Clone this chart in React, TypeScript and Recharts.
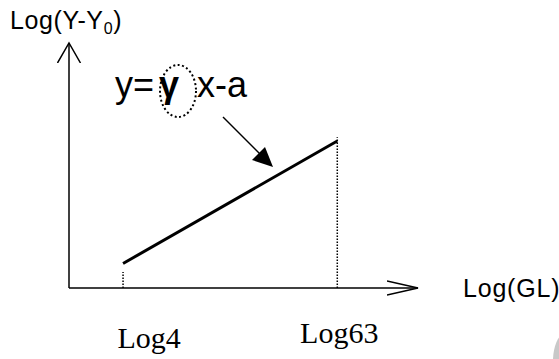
import React from 'react'
import { ComposedChart, Line, XAxis, YAxis, ReferenceLine, Customized } from 'recharts'

// log10 of the grey levels on the x axis
const GL_LEVELS = [4, 63]
const TICK_LABELS = ['Log4', 'Log63']
const LOG_GL = [0.602, 1.799]
// fitted response at those levels (arbitrary units)
const LOG_RESPONSE = [1.0, 6.0]
// top of the dotted drop lines
const DROP_TOPS = [0.65, 6.15]

const lineData = LOG_GL.map((x, i) => ({ x, y: LOG_RESPONSE[i], gl: GL_LEVELS[i] }))

const SANS = '"Liberation Sans", Arial, sans-serif'
const SERIF = '"Liberation Serif", "Times New Roman", serif'

const tickShift: Record<string, { dx: number; dy: number }> = {
  Log4: { dx: 26, dy: 60 },
  Log63: { dx: 2, dy: 55 },
}

function GLTick(props: any) {
  const { x, y, payload } = props
  const i = LOG_GL.indexOf(payload.value)
  const label = TICK_LABELS[i] ?? ''
  const s = tickShift[label] || { dx: 0, dy: 0 }
  return (
    <text x={x + s.dx} y={y + s.dy} textAnchor="middle" fontFamily={SERIF} fontSize={30} fill="#000">
      {label}
    </text>
  )
}

function Notes() {
  return (
    <g>
      <text x={10} y={29} fontFamily={SANS} fontSize={25} letterSpacing={0.6} fill="#000">
        Log(Y-Y<tspan fontSize={16} dy={5}>0</tspan><tspan dy={-5}>)</tspan>
      </text>
      <text x={463} y={297} fontFamily={SANS} fontSize={25} letterSpacing={0.8} fill="#000">Log(GL)</text>
      <text y={97} fontFamily={SANS} fontSize={36} fill="#000">
        <tspan x={115}>y=</tspan>
        <tspan x={159} fontWeight="bold">γ</tspan>
        <tspan x={197}>x-a</tspan>
      </text>
      <ellipse cx={178} cy={91} rx={18} ry={26} fill="none" stroke="#000" strokeWidth={2} strokeDasharray="2 2.5" />
      <line x1={223} y1={117} x2={262} y2={156} stroke="#000" strokeWidth={1.5} />
      <polygon points="273,167 252,160 265,147" fill="#000" />
      <ellipse cx={565} cy={361} rx={12} ry={27} fill="#c8c8c8" />
    </g>
  )
}

export default function App() {
  return (
    <div style={{ width: 559, height: 359, background: '#fff' }}>
      <style>{'body{margin:0}'}</style>
      <ComposedChart width={559} height={359} data={lineData} margin={{ top: 43, right: 141, bottom: 0, left: 59 }}>
        <defs>
          <marker id="xArrow" markerWidth={34} markerHeight={18} refX={31} refY={9} orient="auto" markerUnits="userSpaceOnUse">
            <path d="M0,2 L31,9 L0,16" fill="none" stroke="#000" strokeWidth={1.5} />
          </marker>
          <marker id="yArrow" markerWidth={22} markerHeight={26} refX={20} refY={12.5} orient="auto-start-reverse" markerUnits="userSpaceOnUse">
            <path d="M0,1 L20,12.5 L0,24" fill="none" stroke="#000" strokeWidth={1.5} />
          </marker>
        </defs>
        <XAxis
          type="number"
          dataKey="x"
          domain={[0.3, 2.25]}
          ticks={LOG_GL}
          height={71}
          tickSize={0}
          tickMargin={0}
          tickLine={false}
          axisLine={{ stroke: '#000', strokeWidth: 1.5, markerEnd: 'url(#xArrow)' }}
          tick={<GLTick />}
          interval={0}
        />
        <YAxis
          type="number"
          domain={[0, 10]}
          width={10}
          tick={false}
          tickLine={false}
          axisLine={{ stroke: '#000', strokeWidth: 1.5, markerStart: 'url(#yArrow)' }}
        />
        {LOG_GL.map((x, i) => (
          <ReferenceLine
            key={x}
            segment={[{ x, y: 0 }, { x, y: DROP_TOPS[i] }]}
            stroke="#000"
            strokeWidth={1.5}
            strokeDasharray="1.5 1.5"
            ifOverflow="visible"
          />
        ))}
        <Line dataKey="y" stroke="#000" strokeWidth={3} dot={false} activeDot={false} isAnimationActive={false} />
        <Customized component={<Notes />} />
      </ComposedChart>
    </div>
  )
}
